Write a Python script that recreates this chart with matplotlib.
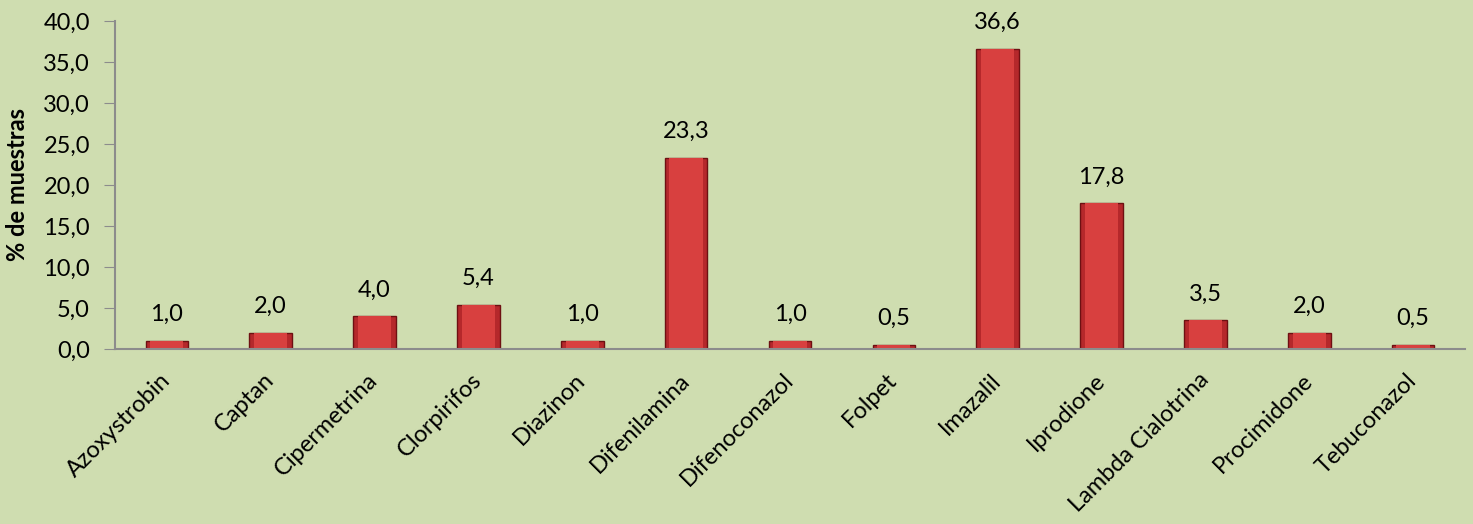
import matplotlib
matplotlib.use('Agg')
import matplotlib.pyplot as plt
import matplotlib.transforms as mtransforms
import numpy as np

categories = ['Azoxystrobin', 'Captan', 'Cipermetrina', 'Clorpirifos', 'Diazinon',
              'Difenilamina', 'Difenoconazol', 'Folpet', 'Imazalil', 'Iprodione',
              'Lambda Cialotrina', 'Procimidone', 'Tebuconazol']
values = [1.0, 2.0, 4.0, 5.4, 1.0, 23.3, 1.0, 0.5, 36.6, 17.8, 3.5, 2.0, 0.5]
yticks = [0, 5, 10, 15, 20, 25, 30, 35, 40]

plt.rcParams['font.family'] = ['Lato', 'DejaVu Sans']
bg = '#cfddb0'

fig = plt.figure(figsize=(14.73, 5.24), dpi=100, facecolor=bg)
ax = fig.add_axes([0.078, 0.334, 0.9166, 0.626], facecolor=bg)

x = np.arange(len(categories))
# darker outer bar with a lighter centre band for the bevelled look
ax.bar(x, values, width=0.41, color='#b5282b', edgecolor='#6e1012', linewidth=1.0)
ax.bar(x, values, width=0.32, color='#d8403f', linewidth=0)

for xi, v in zip(x, values):
    ax.text(xi, v + 1.9, f'{v:.1f}'.replace('.', ','), ha='center', va='bottom', fontsize=17)

ax.set_xlim(-0.5, len(categories) - 0.5)
ax.set_ylim(0, 40)
ax.set_yticks(yticks)
ax.set_yticklabels([f'{t:.1f}'.replace('.', ',') for t in yticks], fontsize=17)
ax.set_xticks(x)
ax.set_xticklabels(categories, rotation=45, ha='right', va='center',
                   rotation_mode='anchor', fontsize=17)
offset = mtransforms.ScaledTranslation(0.10, 0, fig.dpi_scale_trans)
for lab in ax.get_xticklabels():
    lab.set_transform(lab.get_transform() + offset)
ax.tick_params(axis='x', length=0, pad=20)
ax.tick_params(axis='y', length=8, color='#8c8c8c', pad=10)
ax.set_ylabel('% de muestras', fontsize=17, fontweight='bold', labelpad=10)

for s in ['top', 'right']:
    ax.spines[s].set_visible(False)
for s in ['left', 'bottom']:
    ax.spines[s].set_color('#8c8c8c')
    ax.spines[s].set_linewidth(1.5)

fig.savefig('out.png', facecolor=bg)
